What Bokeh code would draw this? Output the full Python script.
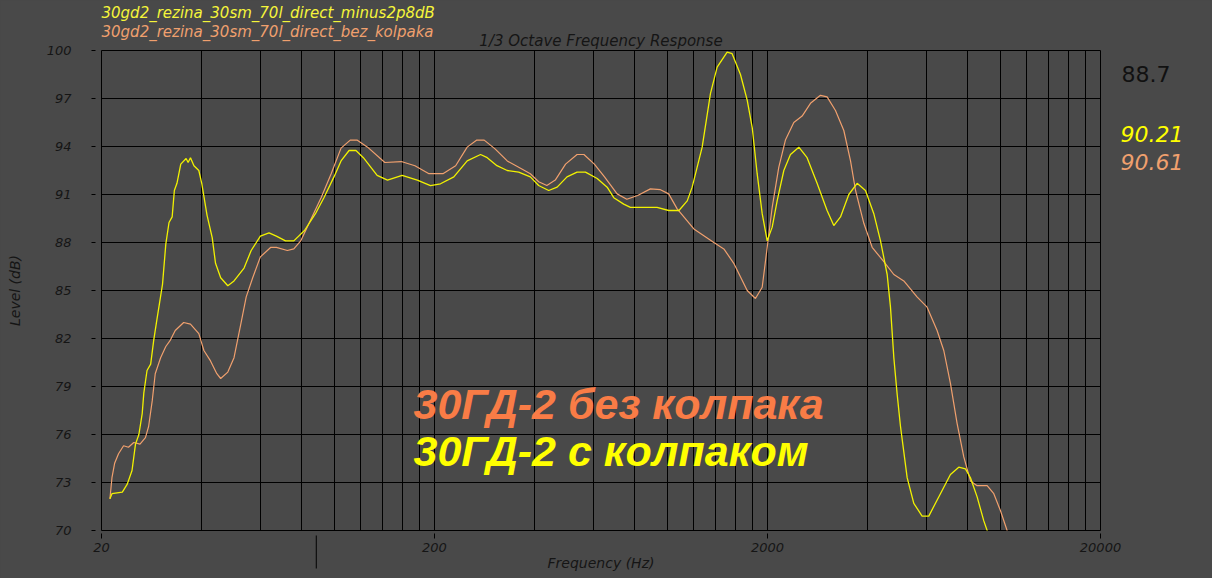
from bokeh.plotting import figure
from bokeh.models import FixedTicker, Label, Range1d, BoxAnnotation
from bokeh.embed import file_html
from bokeh.resources import INLINE

# ---- data ----
freq_yellow = [21.2, 21.5, 23.1, 23.9, 24.7, 25.3, 25.9, 26.5, 26.8, 27.4, 28.1, 28.7, 29.4, 30.5,
               31.2, 31.9, 32.6, 33.1, 33.7, 34.6, 35.9, 36.4, 37.0, 37.9, 39.2, 40.0, 41.5, 43.0,
               44.0, 45.6, 47.9, 50.0, 53.6, 56.3, 60.0, 63.7, 67.0, 71.4, 75.6, 81.4, 87.8, 93.1,
               99.8, 104.8, 110.8, 116.2, 122.3, 134.5, 144.5, 159.9, 177.6, 194.5, 208.5, 228.6,
               250.7, 275, 288, 308, 330.7, 358, 388, 411, 440.6, 467, 500, 536, 568, 616, 660,
               691, 740, 775, 850, 932, 1010, 1084, 1148, 1188, 1273, 1348, 1412, 1513, 1566,
               1659, 1738, 1799, 1862, 1928, 1996, 2066, 2138, 2239, 2344, 2484, 2630, 2818, 3020,
               3163, 3313, 3509, 3717, 3938, 4171, 4369, 4575, 4681, 4791, 4903, 5017, 5253, 5500,
               5825, 6100, 6612, 7086, 7506, 7861, 8138, 8522, 8925, 9133, 9400]
db_yellow = [71.98, 72.3, 72.4, 72.9, 73.75, 75.4, 76.0, 77.3, 78.6, 80.0, 80.4, 81.9, 83.3, 85.4,
             87.9, 89.25, 89.6, 91.25, 91.7, 92.9, 93.25, 93.0, 93.3, 92.8, 92.5, 91.7, 89.7, 88.3,
             86.7, 85.8, 85.3, 85.6, 86.4, 87.5, 88.4, 88.6, 88.4, 88.1, 88.1, 88.75, 89.8, 90.8,
             92.1, 93.1, 93.75, 93.75, 93.3, 92.2, 91.9, 92.2, 91.9, 91.56, 91.67, 92.1,
             93.1, 93.5, 93.3, 92.8, 92.5, 92.4, 92.1, 91.56, 91.25, 91.46, 92.1, 92.4, 92.4, 92.0, 91.46,
             90.8, 90.4, 90.2, 90.2, 90.2, 90.0, 90.0, 90.6, 91.46, 93.96, 97.3, 98.96, 99.9, 99.8,
             98.5, 96.9, 95.2, 92.3, 89.8, 88.1, 88.96, 90.6, 92.5, 93.5, 93.96, 93.3, 91.7, 90.0,
             89.06, 89.6, 91.0, 91.7, 91.25, 89.8, 88.1, 86.0, 83.96, 80.8, 78.5, 76.5, 73.3, 71.7,
             70.9, 70.9, 72.3, 73.5, 73.96, 73.85, 73.3, 72.1, 70.6, 70.0, 69.0]

freq_orange = [21.2, 21.5, 21.9, 22.5, 23.3, 24.1, 25.0, 26.1, 27.1, 27.7, 28.4, 29.0, 30.1, 31.2,
               32.2, 33.3, 35.3, 37.0, 39.2, 40.6, 42.5, 44.4, 45.6, 47.9, 50.0, 52.4, 54.4, 56.9,
               60.0, 64.5, 67.0, 72.3, 75.6, 79.3, 84.9, 91.3, 97.9, 104.8, 111.7, 117.0, 125.9,
               141.9, 158.9, 174.7, 192.5, 212, 231.5, 250.7, 268, 282, 304, 330.7, 358, 388, 411,
               435, 461, 495, 536, 562, 604, 648, 707, 756, 815, 890, 954, 1010, 1071, 1202, 1380,
               1479, 1584, 1738, 1840, 1928, 1996, 2066, 2162, 2264, 2399, 2541, 2692, 2884, 3020,
               3200, 3390, 3551, 3677, 3893, 4124, 4470, 4791, 5133, 5624, 6030, 6461, 6767, 7086,
               7419, 7771, 8138, 8522, 9133, 9564, 10010, 10484, 10900]
db_orange = [71.98, 73.3, 74.2, 74.8, 75.3, 75.2, 75.5, 75.4, 75.8, 76.5, 78.1, 79.8, 80.8, 81.5,
             81.9, 82.5, 83.0, 82.9, 82.3, 81.25, 80.6, 79.8, 79.5, 79.9, 80.8, 82.9, 84.6, 85.8,
             87.1, 87.7, 87.7, 87.5, 87.6, 88.1, 89.4, 90.8, 92.3, 93.9, 94.4, 94.4, 93.96,
             93.0, 93.06, 92.8, 92.3, 92.3, 92.8, 93.96, 94.4, 94.4, 93.85, 93.1, 92.7, 92.3, 91.8,
             91.56, 91.9, 92.9, 93.5, 93.5, 92.9, 92.1, 91.04, 90.7, 90.94, 91.35, 91.3, 91.04, 90.1, 88.85, 88.0,
             87.6, 86.7, 85.0, 84.5, 85.2, 87.7, 90.2, 92.7, 94.4, 95.5, 95.9, 96.7, 97.2, 97.1,
             96.25, 95.0, 93.1, 91.25, 89.2, 87.7, 86.8, 86.0, 85.6, 84.6, 83.96, 82.5, 81.25, 79.2,
             76.7, 74.6, 73.1, 72.8, 72.8, 72.3, 71.25, 70.0, 69.0]

x_tick_values = [20, 200, 2000, 20000]
x_tick_labels = ["20", "200", "2000", "20000"]
grid_multipliers = [1, 2, 3, 4, 5, 6, 7, 8, 9]
x_grid_values = [d * m for d in (20, 200, 2000) for m in grid_multipliers] + [20000]
y_tick_values = [70, 73, 76, 79, 82, 85, 88, 91, 94, 97, 100]

chart_title = "1/3 Octave Frequency Response"
series_names = ["30gd2_rezina_30sm_70l_direct_minus2p8dB", "30gd2_rezina_30sm_70l_direct_bez_kolpaka"]
series_values = ["90.21", "90.61"]
cursor_value = "88.7"
cursor_freq = 88.0
annot_texts = ["30ГД-2 без колпака", "30ГД-2 с колпаком"]

BG = "#494949"
YEL = "#f2f200"
ORG = "#f0a06e"
TXT = "#151515"
FONT = "DejaVu Sans"
W, H = 1212, 578
LEFT, RIGHT, TOP, BOTTOM = 101, 112, 50, 48

# ---- main chart ----
p = figure(width=W, height=H, x_axis_type="log",
           x_range=Range1d(20, 20000), y_range=Range1d(70, 100),
           output_backend="svg", toolbar_location=None,
           min_border_left=LEFT, min_border_right=RIGHT,
           min_border_top=TOP, min_border_bottom=BOTTOM,
           background_fill_color=BG, border_fill_color=BG,
           title=chart_title)

p.outline_line_color = "black"
p.outline_line_width = 1

p.title.align = "center"
p.title.text_font = FONT
p.title.text_font_size = "15px"
p.title.text_font_style = "italic"
p.title.text_color = TXT
p.title.standoff = 2

p.xgrid.ticker = FixedTicker(ticks=x_grid_values)
p.ygrid.ticker = FixedTicker(ticks=y_tick_values)
for g in (p.xgrid, p.ygrid):
    g.grid_line_color = "black"
    g.grid_line_alpha = 1.0
    g.grid_line_width = 1

p.xaxis.ticker = FixedTicker(ticks=x_tick_values, minor_ticks=[])
p.xaxis.major_label_overrides = {v: l for v, l in zip(x_tick_values, x_tick_labels)}
p.yaxis.ticker = FixedTicker(ticks=y_tick_values, minor_ticks=[])
for ax in (p.xaxis[0], p.yaxis[0]):
    ax.axis_line_color = None
    ax.major_tick_line_color = "black"
    ax.minor_tick_line_color = None
    ax.major_label_text_font = FONT
    ax.major_label_text_font_size = "13px"
    ax.major_label_text_font_style = "italic"
    ax.major_label_text_color = TXT
    ax.axis_label_text_font = FONT
    ax.axis_label_text_font_size = "14px"
    ax.axis_label_text_font_style = "italic"
    ax.axis_label_text_color = TXT

p.xaxis.axis_label = "Frequency (Hz)"
p.xaxis.major_tick_in = -3
p.xaxis.major_tick_out = 8
p.xaxis.major_label_standoff = 4
p.xaxis.axis_label_standoff = 0

p.yaxis.axis_label = "Level (dB)"
p.yaxis.major_tick_in = -6
p.yaxis.major_tick_out = 10
p.yaxis.major_label_standoff = 20
p.yaxis.axis_label_standoff = 21

p.line(freq_orange, db_orange, line_color=ORG, line_width=1.2)
p.line(freq_yellow, db_yellow, line_color=YEL, line_width=1.3)

p.add_layout(Label(x=173, y=77.9, text=annot_texts[0], text_color="#f97c46",
                   text_font="Liberation Sans", text_font_size="43px",
                   text_font_style="bold italic", text_baseline="middle"))
p.add_layout(Label(x=173, y=75.0, text=annot_texts[1], text_color="#ffff00",
                   text_font="Liberation Sans", text_font_size="43px",
                   text_font_style="bold italic", text_baseline="middle"))

# ---- transparent overlay for the texts outside the plot area ----
# same horizontal log scale as the main chart, extended over the margins
decade_px = (W - LEFT - RIGHT) / 3.0
ov_x0 = x_tick_values[0] / 10 ** (LEFT / decade_px)
ov_x1 = x_tick_values[-1] * 10 ** (RIGHT / decade_px)
ov = figure(width=W, height=H, x_axis_type="log",
            x_range=Range1d(ov_x0, ov_x1), y_range=Range1d(0, H),
            output_backend="svg", toolbar_location=None,
            x_axis_location=None, y_axis_location=None,
            min_border=0, min_border_left=0, min_border_right=0,
            min_border_top=0, min_border_bottom=0,
            background_fill_alpha=0, border_fill_alpha=0,
            styles={"position": "absolute", "top": "0px", "left": "0px", "z-index": "5",
                    "pointer-events": "none"})
ov.outline_line_color = None
ov.xgrid.visible = False
ov.ygrid.visible = False

ov.add_layout(Label(x=LEFT, y=H - 12.6, x_units="screen", y_units="screen",
                    text=series_names[0], text_color="#f5f53a", text_font=FONT,
                    text_font_size="15px", text_font_style="italic", text_baseline="middle"))
ov.add_layout(Label(x=LEFT, y=H - 31.5, x_units="screen", y_units="screen",
                    text=series_names[1], text_color=ORG, text_font=FONT,
                    text_font_size="15px", text_font_style="italic", text_baseline="middle"))
ov.add_layout(Label(x=1121, y=H - 73, x_units="screen", y_units="screen",
                    text=cursor_value, text_color="#111111", text_font=FONT,
                    text_font_size="22px", text_baseline="middle"))
ov.add_layout(Label(x=1120, y=H - 133, x_units="screen", y_units="screen",
                    text=series_values[0], text_color="#ffff00", text_font=FONT,
                    text_font_size="22px", text_font_style="italic", text_baseline="middle"))
ov.add_layout(Label(x=1120, y=H - 161, x_units="screen", y_units="screen",
                    text=series_values[1], text_color=ORG, text_font=FONT,
                    text_font_size="22px", text_font_style="italic", text_baseline="middle"))
# thin cursor marker under the frequency axis (about one pixel wide)
ov.add_layout(BoxAnnotation(left=cursor_freq, right=cursor_freq * 10 ** (1.0 / decade_px),
                            top=H - 535, bottom=H - 568, top_units="screen", bottom_units="screen",
                            fill_color="black", fill_alpha=1.0, line_color=None))

html = file_html([p, ov], INLINE)
html = html.replace("</head>", "<style>html,body{background:%s;}</style></head>" % BG, 1)
open("out.html", "w").write(html)
